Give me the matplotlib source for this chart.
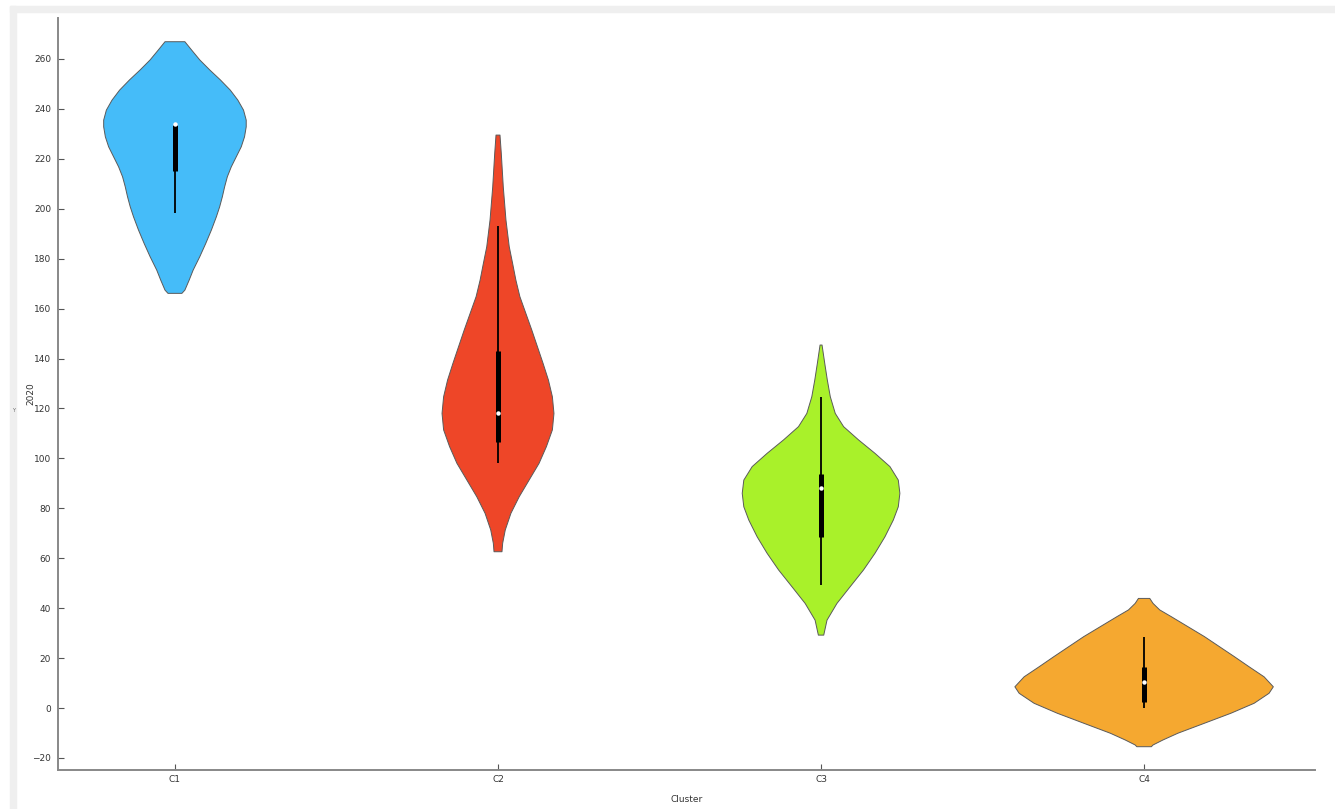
import numpy as np
import matplotlib.pyplot as plt
from matplotlib.patches import Rectangle

clusters = ["C1", "C2", "C3", "C4"]
colors = ["#45bcf9", "#ee4628", "#a9f12a", "#f5a830"]

# violin outlines: value levels and relative density
c1_levels = [266.9, 263.6, 259.6, 255.6, 251.6, 247.5, 243.5, 239.5, 235.5, 232.8, 228.8,
             224.8, 220.8, 216.8, 212.8, 208.8, 204.8, 200.8, 196.8, 191.5, 186.1, 180.8,
             175.4, 171.4, 167.4, 166.1]
c1_density = [10, 16.7, 25, 35, 45.7, 55.7, 63.3, 69, 71.7, 71.7, 70,
              66.7, 61.7, 56.7, 52.7, 50, 47.7, 45, 41.7, 36.7, 31, 25,
              18.3, 14.3, 10, 7]
c2_levels = [229.5, 222.2, 208.8, 195.5, 184.8, 178.1, 171.4, 164.8, 158.1, 151.4, 144.7,
             138.1, 131.4, 124.7, 118.0, 111.4, 104.7, 98.0, 91.3, 84.6, 78.0, 71.3, 66.0, 62.6]
c2_density = [2, 3.3, 5.3, 8, 11.3, 14.7, 18, 22, 28, 34, 39.7,
              45.3, 50.7, 54.7, 56.3, 54.7, 48.7, 41.3, 31.3, 21.3, 13, 7.3, 4.7, 4]
c3_levels = [145.4, 138.1, 131.4, 124.7, 118.0, 112.7, 107.4, 102.0, 96.7, 91.3, 86.0,
             80.6, 75.3, 68.6, 62.0, 55.3, 48.6, 41.9, 35.2, 29.2]
c3_density = [1, 3.7, 6.3, 9.3, 14.3, 22.7, 37.7, 54.3, 69.3, 77.7, 79.3,
              77.7, 72.7, 64.3, 54.3, 42.7, 29.3, 16, 6, 2.7]
c4_levels = [43.9, 41.9, 39.3, 36.6, 32.6, 28.6, 24.6, 20.6, 16.5, 12.5, 8.5, 5.9,
             1.9, -2.1, -6.1, -10.1, -12.8, -14.8, -15.5]
c4_density = [5.7, 9, 15.7, 27.3, 44, 60.7, 75.7, 90.7, 105.7, 120.7, 130, 125.7,
              110.7, 87.3, 60.7, 34, 19, 9, 7.3]

# inner box: whisker low, q1, median, q3, whisker high
whisk_lo = [198.4, 98, 49.2, 0]
q1 = [215.2, 106.4, 68.4, 2.4]
median = [234, 118, 88, 10.4]
q3 = [233.5, 143.2, 93.6, 16.4]
whisk_hi = [234, 193.2, 124.4, 28.4]

levels = [c1_levels, c2_levels, c3_levels, c4_levels]
density = [c1_density, c2_density, c3_density, c4_density]

fig = plt.figure(figsize=(13.35, 8.09), dpi=100)
# light gray frame strip at top and left like the screenshot
fig.add_artist(Rectangle((10 / 1335, 0), 6 / 1335, 1 - 6 / 809, transform=fig.transFigure,
                         color="#efefef", zorder=0))
fig.add_artist(Rectangle((10 / 1335, 1 - 12 / 809), 1, 6 / 809, transform=fig.transFigure,
                         color="#efefef", zorder=0))

ax = fig.add_axes([58 / 1335, 1 - 770 / 809, (1315 - 58) / 1335, (770 - 18) / 809])

dmax = max(max(d) for d in density)
half_max = 0.40
for i in range(len(clusters)):
    y = np.array(levels[i])
    w = np.array(density[i]) / dmax * half_max
    xs = np.concatenate([i - w, (i + w)[::-1]])
    ys = np.concatenate([y, y[::-1]])
    ax.fill(xs, ys, facecolor=colors[i], edgecolor="#5a5a5a", linewidth=0.7,
            joinstyle="round", zorder=2)
    ax.plot([i, i], [whisk_lo[i], whisk_hi[i]], color="black", lw=1.3, solid_capstyle="butt", zorder=3)
    ax.plot([i, i], [q1[i], q3[i]], color="black", lw=3.6, solid_capstyle="butt", zorder=3)
    ax.plot(i, median[i], "o", color="white", markersize=3.2, markeredgewidth=0, zorder=4)

ax.set_xlim(-0.362, 3.529)
ax.set_ylim(-24.83, 276.4)
ax.set_xticks(range(len(clusters)))
ax.set_xticklabels(clusters)
ax.set_yticks(np.arange(-20, 261, 20))
ax.tick_params(axis="both", direction="in", length=4, width=0.8, color="#555555",
               labelsize=6.5, labelcolor="#333333")
ax.tick_params(axis="y", pad=5)
for side in ["top", "right"]:
    ax.spines[side].set_visible(False)
for side in ["left", "bottom"]:
    ax.spines[side].set_color("#888888")
    ax.spines[side].set_linewidth(1.4)

ax.set_xlabel("Cluster", fontsize=6.5, color="#333333")
ax.set_ylabel("2020", fontsize=6.5, color="#333333")
ax.xaxis.set_label_coords(0.5, -0.033)
ax.yaxis.set_label_coords(-0.018, 0.5)
fig.text(12 / 1335, 1 - 410 / 809, "Y", fontsize=3.5, color="#666666", va="center")

fig.savefig("out.png", dpi=100)
